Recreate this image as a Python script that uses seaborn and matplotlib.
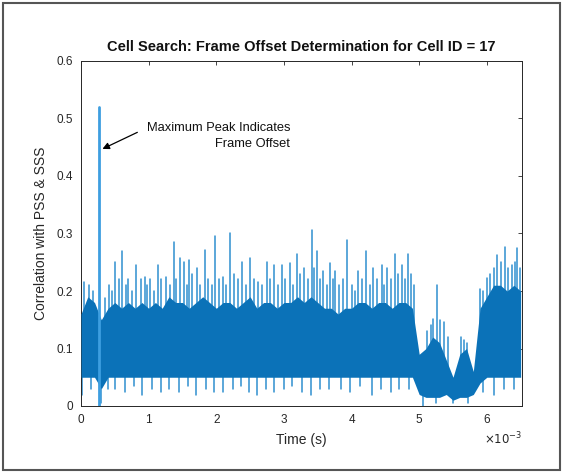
import numpy as np
import pandas as pd
import matplotlib
matplotlib.use("Agg")
import matplotlib.pyplot as plt
from matplotlib.patches import Rectangle
import seaborn as sns

# ---- data (time in units of 1e-3 s) ----
core_t = [round(0.1 * i, 1) for i in range(66)]
core_upper = [0.16, 0.19, 0.18, 0.15, 0.17, 0.18, 0.17, 0.18, 0.17, 0.18,
              0.17, 0.18, 0.17, 0.19, 0.18, 0.18, 0.17, 0.18, 0.19, 0.18,
              0.17, 0.18, 0.18, 0.17, 0.18, 0.19, 0.17, 0.18, 0.18, 0.17,
              0.18, 0.18, 0.19, 0.18, 0.19, 0.18, 0.17, 0.17, 0.16, 0.17,
              0.17, 0.18, 0.18, 0.17, 0.18, 0.18, 0.17, 0.18, 0.18, 0.17,
              0.09, 0.10, 0.12, 0.11, 0.08, 0.05, 0.09, 0.10, 0.06, 0.17,
              0.19, 0.21, 0.21, 0.20, 0.21, 0.20]
core_lower = [0.05, 0.05, 0.05, 0.03, 0.05, 0.05, 0.05, 0.05, 0.05, 0.05,
              0.05, 0.05, 0.05, 0.05, 0.05, 0.05, 0.05, 0.05, 0.05, 0.05,
              0.05, 0.05, 0.05, 0.05, 0.05, 0.05, 0.05, 0.05, 0.05, 0.05,
              0.05, 0.05, 0.05, 0.05, 0.05, 0.05, 0.05, 0.05, 0.05, 0.05,
              0.05, 0.05, 0.05, 0.05, 0.05, 0.05, 0.05, 0.05, 0.05, 0.05,
              0.02, 0.015, 0.015, 0.015, 0.02, 0.01, 0.015, 0.015, 0.02, 0.04,
              0.05, 0.05, 0.05, 0.05, 0.05, 0.05]

# tall spikes
spike_t = [0.05, 0.35, 0.50, 0.61, 0.70, 0.82, 0.94, 1.02, 1.14, 1.26, 1.37,
           1.46, 1.52, 1.59, 1.71, 1.83, 1.98, 2.10, 2.20, 2.38, 2.50, 2.62,
           2.75, 2.85, 2.97, 3.09, 3.19, 3.29, 3.41, 3.49, 3.58, 3.68, 3.76,
           3.93, 4.00, 4.10, 4.22, 4.32, 4.45, 4.52, 4.64, 4.74, 4.84, 4.92,
           5.21, 5.26, 5.36, 5.66, 5.90, 6.00, 6.15, 6.27, 6.37, 6.45]
spike_v = [0.216, 0.187, 0.25, 0.27, 0.22, 0.245, 0.225, 0.22, 0.245, 0.225,
           0.286, 0.257, 0.25, 0.254, 0.24, 0.271, 0.295, 0.225, 0.30, 0.25,
           0.257, 0.216, 0.25, 0.245, 0.245, 0.248, 0.265, 0.24, 0.306, 0.27,
           0.235, 0.248, 0.235, 0.289, 0.21, 0.235, 0.27, 0.24, 0.245, 0.24,
           0.265, 0.245, 0.265, 0.21, 0.152, 0.21, 0.146, 0.114, 0.204, 0.222,
           0.262, 0.277, 0.245, 0.274]

# shorter spikes forming the lighter fringe above the dense band
minor_t = [0.12, 0.18, 0.42, 0.46, 0.56, 0.66, 0.76, 0.88, 0.98, 1.08, 1.19,
           1.31, 1.41, 1.56, 1.64, 1.76, 1.88, 1.93, 2.04, 2.15, 2.26, 2.32,
           2.44, 2.56, 2.68, 2.80, 2.91, 3.02, 3.13, 3.24, 3.35, 3.45, 3.53,
           3.63, 3.72, 3.82, 3.88, 4.05, 4.16, 4.27, 4.38, 4.48, 4.58, 4.69,
           4.79, 4.88, 5.12, 5.17, 5.31, 5.42, 5.62, 5.70, 5.94, 6.05, 6.10,
           6.21, 6.32, 6.41, 6.49]
minor_v = [0.21, 0.20, 0.21, 0.20, 0.22, 0.21, 0.20, 0.22, 0.21, 0.20, 0.22,
           0.21, 0.22, 0.21, 0.23, 0.21, 0.22, 0.21, 0.22, 0.21, 0.23, 0.22,
           0.21, 0.22, 0.21, 0.22, 0.21, 0.22, 0.21, 0.23, 0.22, 0.24, 0.22,
           0.21, 0.22, 0.21, 0.22, 0.20, 0.22, 0.21, 0.22, 0.21, 0.22, 0.23,
           0.22, 0.23, 0.13, 0.14, 0.15, 0.12, 0.12, 0.11, 0.20, 0.23, 0.24,
           0.25, 0.24, 0.25, 0.24]

dip_t = [0.02, 0.15, 0.29, 0.40, 0.50, 0.65, 0.78, 0.90, 1.05, 1.18, 1.30,
         1.45, 1.58, 1.70, 1.85, 1.97, 2.10, 2.24, 2.37, 2.48, 2.60, 2.73,
         2.86, 3.00, 3.12, 3.27, 3.40, 3.53, 3.66, 3.85, 3.98, 4.12, 4.30,
         4.43, 4.58, 4.70, 4.85, 5.05, 5.25, 5.50, 5.72, 5.95, 6.10, 6.25,
         6.40]
dip_v = [0.02, 0.03, 0.005, 0.03, 0.03, 0.025, 0.035, 0.02, 0.03, 0.025,
         0.03, 0.025, 0.035, 0.02, 0.03, 0.025, 0.025, 0.03, 0.035, 0.025,
         0.02, 0.03, 0.025, 0.03, 0.035, 0.025, 0.02, 0.03, 0.03, 0.03,
         0.025, 0.035, 0.02, 0.03, 0.025, 0.03, 0.03, 0.0, 0.005, 0.005,
         0.005, 0.025, 0.02, 0.03, 0.03]

peak_t = 0.26
peak_v = 0.52

x_ticks = [0, 1, 2, 3, 4, 5, 6]
y_ticks = [0, 0.1, 0.2, 0.3, 0.4, 0.5, 0.6]
y_ticklabels = ["0", "0.1", "0.2", "0.3", "0.4", "0.5", "0.6"]

# ---- plotting ----
sns.set_style("white")
plt.rcParams["font.family"] = ["Liberation Sans", "DejaVu Sans"]

W, H = 563, 473
fig = plt.figure(figsize=(W / 100, H / 100), dpi=100)
fig.patch.set_facecolor("white")
ax = fig.add_axes([81 / W, 1 - 406 / H, (522 - 81) / W, (406 - 61) / H])

blue = "#0b72b8"
spike_blue = "#2f8fd0"

ax.fill_between(core_t, core_lower, core_upper, color=blue, lw=0, zorder=3)

# spikes rise from inside the dense band (hidden behind it) up to their peak;
# dips drop from inside the band down to their minimum
rows = []
k = 0
for t, v in zip(minor_t + spike_t, minor_v + spike_v):
    base = float(np.interp(t, core_t, core_lower)) + 0.01
    rows.append({"id": k, "t": t, "v": base})
    rows.append({"id": k, "t": t, "v": v})
    k += 1
for t, v in zip(dip_t, dip_v):
    top = float(np.interp(t, core_t, core_upper)) - 0.01
    rows.append({"id": k, "t": t, "v": v})
    rows.append({"id": k, "t": t, "v": top})
    k += 1
spikes = pd.DataFrame(rows)
sns.lineplot(data=spikes, x="t", y="v", units="id", estimator=None,
             color=spike_blue, lw=1.1, ax=ax, legend=False, zorder=2)

peak = pd.DataFrame({"t": [peak_t, peak_t], "v": [0.0, peak_v]})
sns.lineplot(data=peak, x="t", y="v", estimator=None, color="#3d9ee0",
             lw=2.0, ax=ax, legend=False, zorder=4)

ax.set_xlim(0, 6.52)
ax.set_ylim(0, 0.6)
ax.set_xticks(x_ticks)
ax.set_xticklabels([str(x) for x in x_ticks])
ax.set_yticks(y_ticks)
ax.set_yticklabels(y_ticklabels)
ax.tick_params(direction="in", length=3, width=0.6, top=True, right=True,
               colors="#262626", labelsize=8.5, pad=6)
for s in ax.spines.values():
    s.set_visible(True)
    s.set_color("#262626")
    s.set_linewidth(0.7)

ax.set_xlabel("Time (s)", fontsize=10, color="#262626", labelpad=5)
ax.set_ylabel("Correlation with PSS & SSS", fontsize=10, color="#262626",
              labelpad=6)
ax.set_title("Cell Search: Frame Offset Determination for Cell ID = 17",
             fontsize=10.5, fontweight="bold", color="#111111", pad=7)
ax.text(1.0, -0.095, r"$\times10^{-3}$", transform=ax.transAxes,
        ha="right", va="center", fontsize=8.5, color="#262626")

ax.text(3.09, 0.47, "Maximum Peak Indicates\nFrame Offset", ha="right",
        va="center", fontsize=9.3, color="#111111", linespacing=1.4)
ax.annotate("", xy=(0.28, 0.445), xytext=(0.87, 0.478),
            arrowprops=dict(arrowstyle="-|>", color="black", lw=0.9,
                            mutation_scale=10))

fig.patches.append(Rectangle((3 / W, 3 / H), (W - 6) / W, (H - 6) / H,
                             transform=fig.transFigure, fill=False,
                             edgecolor="#555555", lw=1.5))

fig.savefig("out.png", dpi=100)
